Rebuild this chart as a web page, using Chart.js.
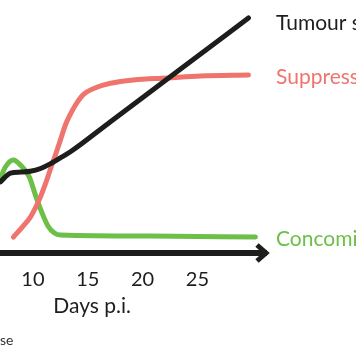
<!DOCTYPE html>
<html><head><meta charset="utf-8">
<script src="https://cdn.jsdelivr.net/npm/chart.js@4/dist/chart.umd.min.js"></script>
<style>html,body{margin:0;padding:0;background:#fff}#wrap{width:356px;height:364px;position:relative}</style>
</head><body><div id="wrap"><canvas id="c"></canvas></div>
<script>
const seriesNames = ['Tumour size', 'Suppression', 'Concomitant immunity'];
const tumourDays = [7.04, 7.95, 8.9, 9.77, 10.7, 11.6, 12.5, 13.42, 17.07, 23.4, 29.65];
const tumourValues = [28.1, 31.6, 32.0, 32.3, 33.4, 35.3, 37.6, 40.0, 51.9, 72.5, 92.9];
const suppressionDays = [8.22, 9.13, 9.77, 10.23, 10.68, 11.14, 11.6, 12.05, 12.51, 12.96, 13.42, 13.88, 14.57, 15.88, 17.07, 19.16, 22.26, 25.27, 29.65];
const suppressionValues = [6.3, 10.7, 14.2, 17.8, 22.1, 27.3, 33.2, 38.7, 44.7, 50.6, 54.9, 58.5, 62.5, 65.6, 67.1, 68.4, 69.2, 70.0, 70.4];
const immunityDays = [7.04, 7.49, 8.22, 8.86, 9.68, 10.23, 10.78, 11.37, 11.96, 12.51, 20.71, 30.29];
const immunityValues = [29.6, 34.0, 36.8, 34.8, 30.0, 22.9, 16.4, 10.7, 7.9, 7.1, 6.7, 6.3];
const xTicks = [10, 15, 20, 25];
const xTitle = 'Days p.i.';
const footnote = 'se';

const BLACK = '#1d1d1b', SALMON = '#f0746e', GREEN = '#6cbf47';
const pts = (xs, ys) => xs.map((x, i) => ({x: x, y: ys[i]}));

const endLabels = {
  id: 'endLabels',
  afterDatasetsDraw(chart, args, opts) {
    const {ctx, chartArea, scales: {x, y}} = chart;
    chart.data.datasets.forEach((ds, i) => {
      const last = ds.data[ds.data.length - 1];
      ctx.save();
      ctx.font = '21px Lato';
      ctx.fillStyle = ds.borderColor;
      ctx.textBaseline = 'alphabetic';
      ctx.textAlign = 'left';
      ctx.fillText(ds.label, chartArea.right + 10, y.getPixelForValue(last.y) + opts.dy[i]);
      ctx.restore();
    });
    ctx.save();
    ctx.font = '21px Lato';
    ctx.fillStyle = BLACK;
    ctx.textAlign = 'center';
    ctx.textBaseline = 'alphabetic';
    ctx.fillText(xTitle, x.getPixelForValue(opts.titleAt), chartArea.bottom + 60);
    ctx.restore();
  }
};
const arrowHead = {
  id: 'arrowHead',
  afterDraw(chart) {
    const {ctx, chartArea: {right, bottom}} = chart;
    ctx.save();
    ctx.strokeStyle = BLACK;
    ctx.lineWidth = 5;
    ctx.lineJoin = 'miter';
    ctx.beginPath();
    ctx.moveTo(right - 9, bottom - 8);
    ctx.lineTo(right, bottom);
    ctx.lineTo(right - 9, bottom + 8);
    ctx.stroke();
    ctx.font = '14px Lato';
    ctx.fillStyle = '#333';
    ctx.textBaseline = 'alphabetic';
    ctx.textAlign = 'left';
    ctx.fillText(footnote, 0, chart.height - 19);
    ctx.restore();
  }
};

const common = {fill: false, borderWidth: 5, pointRadius: 0, cubicInterpolationMode: 'monotone', borderCapStyle: 'round', borderJoinStyle: 'round'};
new Chart(document.getElementById('c'), {
  type: 'line',
  data: {
    datasets: [
      Object.assign({label: seriesNames[0], data: pts(tumourDays, tumourValues), borderColor: BLACK}, common),
      Object.assign({label: seriesNames[1], data: pts(suppressionDays, suppressionValues), borderColor: SALMON}, common),
      Object.assign({label: seriesNames[2], data: pts(immunityDays, immunityValues), borderColor: GREEN}, common)
    ]
  },
  options: {
    responsive: true,
    maintainAspectRatio: false,
    animation: false,
    layout: {padding: {left: 0, top: 0, right: 90, bottom: 61}},
    plugins: {legend: {display: false}, tooltip: {enabled: false}, endLabels: {dy: [12, 9, 9], titleAt: 15.4}},
    scales: {
      x: {
        type: 'linear', min: 7, max: 31.25,
        afterBuildTicks: s => { s.ticks = xTicks.map(v => ({value: v})); },
        afterFit: s => { s.height = 50; },
        grid: {display: false, drawTicks: false},
        border: {display: true, width: 6, color: BLACK},
        ticks: {font: {family: 'Lato', size: 20}, color: BLACK, padding: 15, autoSkip: false, maxRotation: 0},
        title: {display: false}
      },
      y: {min: 0, max: 100, display: false}
    }
  },
  plugins: [endLabels, arrowHead]
});
</script></body></html>
